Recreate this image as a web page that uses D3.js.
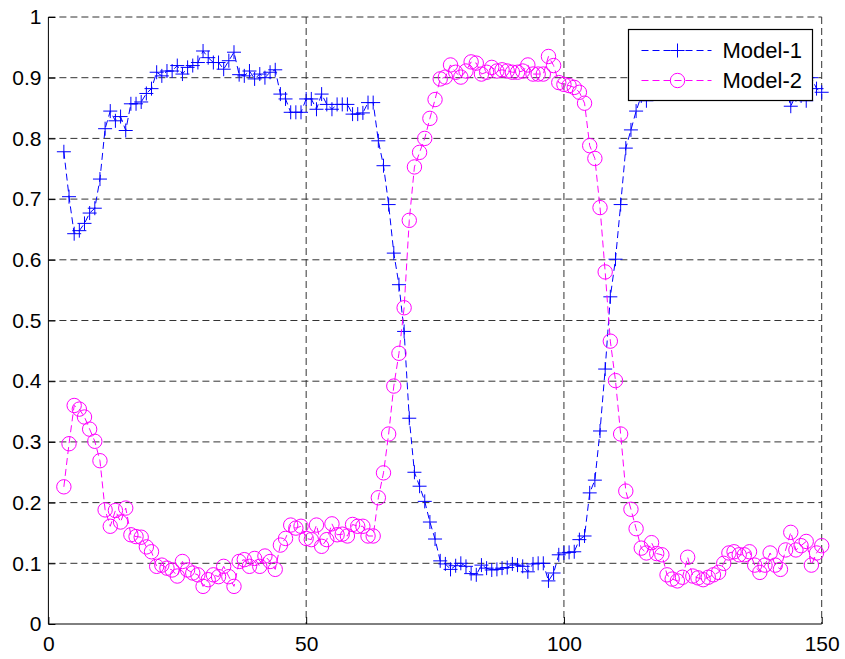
<!DOCTYPE html>
<html>
<head>
<meta charset="utf-8">
<script src="https://cdn.jsdelivr.net/npm/d3@7"></script>
<style>
  html, body { margin: 0; padding: 0; background: #fff; }
  svg { display: block; }
  .axis text { font-family: "Liberation Sans", Arial, sans-serif; font-size: 21px; fill: #000; }
  .axis path, .axis line { stroke: #000; }
  .legend text { font-family: "Liberation Sans", Arial, sans-serif; font-size: 22px; }
</style>
</head>
<body>
<svg id="chart"></svg>
<script>
// sample numbers on the x axis (first sample is 3, last is 150)
const samples = d3.range(3, 151);

// Model-1 values, one per sample (x = 3 ... 150)
const model1 = [
  0.778, 0.704, 0.643, 0.648, 0.660, 0.677, 0.685, 0.733,                 // 3-10
  0.816, 0.845, 0.829, 0.836, 0.813, 0.857, 0.857, 0.860, 0.874, 0.882,   // 11-20
  0.909, 0.903, 0.911, 0.911, 0.920, 0.906, 0.917, 0.920, 0.925, 0.944,   // 21-30
  0.933, 0.925, 0.925, 0.914, 0.928, 0.942, 0.905, 0.903, 0.911, 0.898,   // 31-40
  0.906, 0.900, 0.909, 0.913, 0.873, 0.865, 0.843, 0.843, 0.843, 0.865,   // 41-50
  0.865, 0.848, 0.873, 0.856, 0.848, 0.856, 0.856, 0.856, 0.840, 0.840,   // 51-60
  0.842, 0.859, 0.859, 0.796, 0.755, 0.691, 0.611, 0.559, 0.482, 0.339,   // 61-70
  0.250, 0.227, 0.202, 0.168, 0.140, 0.104, 0.099, 0.090, 0.096, 0.100,   // 71-80
  0.095, 0.083, 0.081, 0.097, 0.092, 0.089, 0.090, 0.092, 0.093, 0.099,   // 81-90
  0.097, 0.095, 0.086, 0.099, 0.100, 0.100, 0.071, 0.084, 0.114, 0.117,   // 91-100
  0.118, 0.119, 0.139, 0.145, 0.216, 0.237, 0.318, 0.420, 0.539, 0.601,   // 101-110
  0.691, 0.784, 0.814, 0.845, 0.870, 0.862, 0.878, 0.885, 0.893, 0.900,   // 111-120
  0.905, 0.910, 0.912, 0.908, 0.915, 0.910, 0.905, 0.912, 0.918, 0.910,   // 121-130
  0.902, 0.908, 0.900, 0.895, 0.903, 0.898, 0.890, 0.895, 0.885, 0.890,   // 131-140
  0.882, 0.878, 0.885, 0.853, 0.872, 0.870, 0.862, 0.900, 0.882, 0.876    // 141-150
];

// Model-2 values, one per sample (x = 3 ... 150)
const model2 = [
  0.226, 0.297, 0.360, 0.354, 0.341, 0.321, 0.301, 0.269,                 // 3-10
  0.188, 0.161, 0.187, 0.168, 0.191, 0.147, 0.144, 0.143, 0.127, 0.119,   // 11-20
  0.095, 0.097, 0.092, 0.089, 0.079, 0.103, 0.089, 0.084, 0.081, 0.062,   // 21-30
  0.073, 0.081, 0.078, 0.095, 0.078, 0.062, 0.103, 0.106, 0.095, 0.108,   // 31-40
  0.095, 0.112, 0.103, 0.090, 0.130, 0.141, 0.163, 0.158, 0.161, 0.141,   // 41-50
  0.139, 0.163, 0.128, 0.139, 0.165, 0.147, 0.148, 0.145, 0.164, 0.161,   // 51-60
  0.161, 0.145, 0.145, 0.208, 0.249, 0.313, 0.392, 0.446, 0.521, 0.665,   // 61-70
  0.753, 0.777, 0.800, 0.833, 0.864, 0.898, 0.901, 0.921, 0.909, 0.901,   // 71-80
  0.911, 0.926, 0.924, 0.906, 0.909, 0.917, 0.911, 0.913, 0.911, 0.909,   // 81-90
  0.909, 0.911, 0.921, 0.906, 0.906, 0.906, 0.935, 0.920, 0.892, 0.889,   // 91-100
  0.887, 0.884, 0.876, 0.858, 0.788, 0.767, 0.686, 0.580, 0.466, 0.401,   // 101-110
  0.313, 0.219, 0.189, 0.157, 0.125, 0.117, 0.134, 0.116, 0.114, 0.081,   // 111-120
  0.074, 0.071, 0.077, 0.110, 0.079, 0.076, 0.073, 0.077, 0.081, 0.085,   // 121-130
  0.100, 0.117, 0.119, 0.114, 0.114, 0.119, 0.097, 0.085, 0.097, 0.117,   // 131-140
  0.097, 0.090, 0.122, 0.151, 0.122, 0.129, 0.136, 0.097, 0.117, 0.129    // 141-150
];

const seriesNames = ['Model-1', 'Model-2'];
const xTicks = [0, 50, 100, 150];
const yTicks = [0, 0.1, 0.2, 0.3, 0.4, 0.5, 0.6, 0.7, 0.8, 0.9, 1];

const config = {
  width: 845,
  height: 659,
  left: 48.4,
  right: 821.7,
  top: 17,
  bottom: 624,
  blue: '#0000ff',
  magenta: '#ff00ff'
};

const svg = d3.select('#chart')
  .attr('width', config.width)
  .attr('height', config.height);

const xScale = d3.scaleLinear().domain([0, 150]).range([config.left, config.right]);
const yScale = d3.scaleLinear().domain([0, 1]).range([config.bottom, config.top]);

// grid lines (dashed)
const grid = svg.append('g')
  .attr('stroke', '#333')
  .attr('stroke-width', 1)
  .attr('stroke-dasharray', '7,4')
  .attr('fill', 'none');

grid.selectAll('.hgrid')
  .data(yTicks.filter(d => d > 0))
  .join('line')
  .attr('class', 'hgrid')
  .attr('x1', config.left)
  .attr('x2', config.right)
  .attr('y1', d => yScale(d))
  .attr('y2', d => yScale(d));

grid.selectAll('.vgrid')
  .data(xTicks.filter(d => d > 0))
  .join('line')
  .attr('class', 'vgrid')
  .attr('x1', d => xScale(d))
  .attr('x2', d => xScale(d))
  .attr('y1', config.top)
  .attr('y2', config.bottom);

// axes, MATLAB style: ticks pointing inwards
const xAxis = d3.axisBottom(xScale)
  .tickValues(xTicks)
  .tickFormat(d3.format('d'))
  .tickSize(-7)
  .tickPadding(12);

const yAxis = d3.axisLeft(yScale)
  .tickValues(yTicks)
  .tickFormat(d => String(d))
  .tickSize(-7)
  .tickPadding(7);

svg.append('g')
  .attr('class', 'axis x-axis')
  .attr('transform', `translate(0,${config.bottom})`)
  .call(xAxis)
  .call(g => g.select('.domain').attr('d', `M${config.left},0H${config.right}`));

svg.append('g')
  .attr('class', 'axis y-axis')
  .attr('transform', `translate(${config.left},0)`)
  .call(yAxis)
  .call(g => g.select('.domain').attr('d', `M0,${config.top}V${config.bottom}`));

// series
const line = d3.line()
  .x(d => xScale(d[0]))
  .y(d => yScale(d[1]));

const plusPath = s => `M${-s},0H${s}M0,${-s}V${s}`;

function drawSeries(values, color, marker) {
  const pts = samples.map((s, i) => [s, values[i]]);
  const g = svg.append('g');
  g.append('path')
    .datum(pts)
    .attr('d', line)
    .attr('fill', 'none')
    .attr('stroke', color)
    .attr('stroke-width', 1)
    .attr('stroke-dasharray', '7,4');
  if (marker === 'plus') {
    g.selectAll('.m')
      .data(pts)
      .join('path')
      .attr('class', 'm')
      .attr('transform', d => `translate(${xScale(d[0])},${yScale(d[1])})`)
      .attr('d', plusPath(7))
      .attr('stroke', color)
      .attr('stroke-width', 1)
      .attr('fill', 'none');
  } else {
    g.selectAll('.m')
      .data(pts)
      .join('circle')
      .attr('class', 'm')
      .attr('cx', d => xScale(d[0]))
      .attr('cy', d => yScale(d[1]))
      .attr('r', 7.2)
      .attr('stroke', color)
      .attr('stroke-width', 1)
      .attr('fill', 'none');
  }
}

drawSeries(model1, config.blue, 'plus');
drawSeries(model2, config.magenta, 'circle');

// legend
const legend = svg.append('g')
  .attr('class', 'legend')
  .attr('transform', 'translate(628.5,29.5)');

legend.append('rect')
  .attr('width', 184)
  .attr('height', 71)
  .attr('fill', '#fff')
  .attr('stroke', '#000')
  .attr('stroke-width', 1.2);

const items = [
  {name: seriesNames[0], color: config.blue, marker: 'plus'},
  {name: seriesNames[1], color: config.magenta, marker: 'circle'}
];

const item = legend.selectAll('.item')
  .data(items)
  .join('g')
  .attr('class', 'item')
  .attr('transform', (d, i) => `translate(0,${21 + i * 30})`);

item.append('line')
  .attr('x1', 13)
  .attr('x2', 83)
  .attr('stroke', d => d.color)
  .attr('stroke-width', 1)
  .attr('stroke-dasharray', '7,4');

item.filter(d => d.marker === 'plus').append('path')
  .attr('transform', 'translate(49,0)')
  .attr('d', plusPath(7))
  .attr('stroke', d => d.color)
  .attr('fill', 'none');

item.filter(d => d.marker === 'circle').append('circle')
  .attr('cx', 49)
  .attr('r', 7.2)
  .attr('stroke', d => d.color)
  .attr('fill', 'none');

item.append('text')
  .attr('x', 94)
  .attr('dy', '0.36em')
  .attr('fill', '#000')
  .text(d => d.name);
</script>
</body>
</html>
